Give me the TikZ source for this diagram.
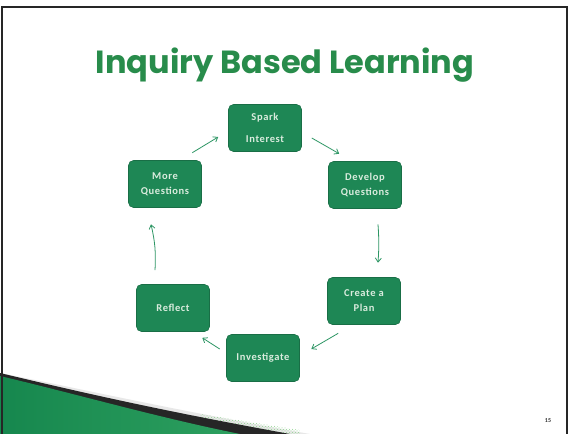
\documentclass[tikz,border=0pt]{standalone}
\usepackage{fontspec}
\setmainfont{Carlito}
\newfontfamily\titlefont{Poppins}
\usetikzlibrary{arrows.meta,calc,patterns}
\definecolor{boxgreen}{RGB}{30,135,85}
\definecolor{boxedge}{RGB}{25,110,70}
\definecolor{boxtext}{RGB}{218,236,222}
\definecolor{arrowc}{RGB}{45,150,100}
\definecolor{titlegreen}{RGB}{40,140,75}
\definecolor{swooshA}{RGB}{22,135,78}
\definecolor{swooshB}{RGB}{45,160,95}
\tikzset{
  stepbox/.style={draw=boxedge, line width=0.6pt, fill=boxgreen, rounded corners=5pt,
    minimum width=73pt, minimum height=47pt, text=boxtext, align=center,
    font=\bfseries\addfontfeatures{LetterSpace=6}\fontsize{10.5}{15}\selectfont, inner sep=2pt},
  arr/.style={draw=arrowc, line width=0.8pt, -{Straight Barb[length=4pt,width=6pt]}}
}
\begin{document}
\begin{tikzpicture}[x=1pt,y=-1pt]
\useasboundingbox (0,0) rectangle (574,434);
\fill[white] (0,0) rectangle (574,434);
% swoosh bottom left
\fill[gray!18] (50,383) .. controls (150,404) and (230,420) .. (310,434) -- (260,434) .. controls (180,418) and (100,400) .. (0,373) -- cycle;
\fill[pattern=crosshatch dots, pattern color=green!45!gray!60] (200,414) -- (300,430) -- (300,434) -- (265,434) -- (200,420) -- cycle;
\fill[black!85] (0,373) .. controls (100,397) and (180,414) .. (290,434) -- (235,434) .. controls (160,418) and (80,396) .. (0,378) -- cycle;
\shade[left color=swooshA, right color=swooshB] (0,376) .. controls (80,395) and (160,418) .. (240,434) -- (0,434) -- cycle;
% frame
\draw[black!85, line width=2pt] (2,434) -- (2,7) -- (567,7) -- (567,434);
% title
\node[font=\titlefont\bfseries\fontsize{32}{36}\selectfont, text=titlegreen] (title) at (285,65) {Inquiry Based Learning};
% nodes
\node[stepbox, font=\bfseries\addfontfeatures{LetterSpace=6}\fontsize{10.5}{22}\selectfont] (spark) at (265,128) {Spark\\Interest};
\node[stepbox] (develop) at (365,185) {Develop\\Questions};
\node[stepbox] (create) at (364,301) {Create a\\Plan};
\node[stepbox] (invest) at (263,358) {Investigate};
\node[stepbox] (reflect) at (173,308) {Reflect};
\node[stepbox] (more) at (165,184) {More\\Questions};
% arrows
\draw[arr] ($(more.north east)+(-9.5,-7.5)$) -- ($(spark.west)+(-10,9)$);
\draw[arr] ($(spark.east)+(10,10)$) -- ($(develop.north west)+(11,-7.5)$);
\draw[arr] ($(develop.south)+(13,15.5)$) to[bend left=4] ($(create.north)+(14,-14.5)$);
\draw[arr] ($(create.south west)+(11,8.5)$) -- ($(invest.east)+(11.5,-9)$);
\draw[arr] ($(invest.west)+(-6.5,-9)$) -- ($(reflect.south east)+(-7.5,6)$);
\draw[arr] ($(reflect.north)+(-18,-14)$) to[bend right=8] ($(more.south)+(-14,16.5)$);
% page number
\node[font=\bfseries\fontsize{6}{7}\selectfont, text=black!80] (pnum) at (548,421) {15};
\end{tikzpicture}
\end{document}
